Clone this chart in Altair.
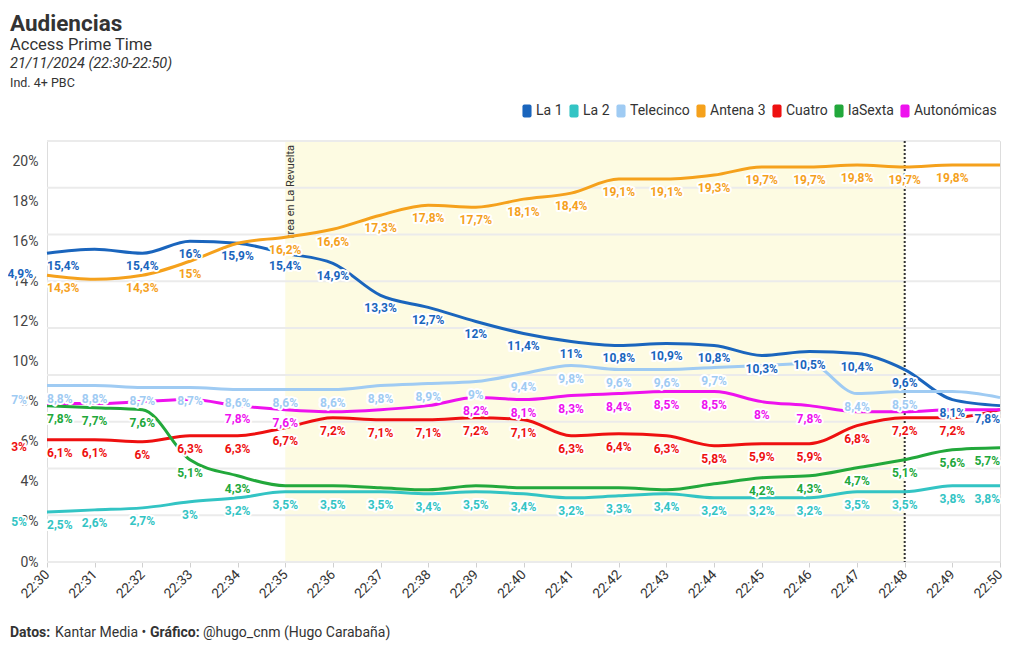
import altair as alt
import pandas as pd

# ---------------- data ----------------
times = ["22:30", "22:31", "22:32", "22:33", "22:34", "22:35", "22:36", "22:37", "22:38", "22:39",
         "22:40", "22:41", "22:42", "22:43", "22:44", "22:45", "22:46", "22:47", "22:48", "22:49", "22:50"]

series = ["La 1", "La 2", "Telecinco", "Antena 3", "Cuatro", "laSexta", "Autonómicas"]
colors = ["#1a65bd", "#33c4c4", "#9fcbf3", "#f5a11c", "#ee1010", "#22a83b", "#ee12ee"]

la1 = [15.4, 15.6, 15.4, 16.0, 15.9, 15.4, 14.9, 13.3, 12.7, 12.0, 11.4, 11.0, 10.8, 10.9, 10.8, 10.3, 10.5, 10.4, 9.6, 8.1, 7.8]
la2 = [2.5, 2.6, 2.7, 3.0, 3.2, 3.5, 3.5, 3.5, 3.4, 3.5, 3.4, 3.2, 3.3, 3.4, 3.2, 3.2, 3.2, 3.5, 3.5, 3.8, 3.8]
telecinco = [8.8, 8.8, 8.7, 8.7, 8.6, 8.6, 8.6, 8.8, 8.9, 9.0, 9.4, 9.8, 9.6, 9.6, 9.7, 9.8, 9.9, 8.4, 8.5, 8.5, 8.2]
antena3 = [14.3, 14.1, 14.3, 15.0, 15.9, 16.2, 16.6, 17.3, 17.8, 17.7, 18.1, 18.4, 19.1, 19.1, 19.3, 19.7, 19.7, 19.8, 19.7, 19.8, 19.8]
cuatro = [6.1, 6.1, 6.0, 6.3, 6.3, 6.7, 7.2, 7.1, 7.1, 7.2, 7.1, 6.3, 6.4, 6.3, 5.8, 5.9, 5.9, 6.8, 7.2, 7.2, 7.6]
lasexta = [7.8, 7.7, 7.6, 5.1, 4.3, 3.8, 3.8, 3.7, 3.6, 3.8, 3.7, 3.7, 3.7, 3.6, 3.9, 4.2, 4.3, 4.7, 5.1, 5.6, 5.7]
autonomicas = [7.9, 7.9, 8.0, 8.1, 7.8, 7.6, 7.5, 7.6, 7.8, 8.2, 8.1, 8.3, 8.4, 8.5, 8.5, 8.0, 7.8, 7.5, 7.5, 7.6, 7.6]

values = {"La 1": la1, "La 2": la2, "Telecinco": telecinco, "Antena 3": antena3,
          "Cuatro": cuatro, "laSexta": lasexta, "Autonómicas": autonomicas}

# minute indexes whose value label is hidden in the original (overlaps)
hidden_labels = {
    "La 1": [1],
    "La 2": [],
    "Telecinco": [15, 16, 19, 20],
    "Antena 3": [1, 4, 20],
    "Cuatro": [20],
    "laSexta": [5, 6, 7, 8, 9, 10, 11, 12, 13, 14],
    "Autonómicas": [0, 1, 2, 3, 6, 7, 8, 17, 18, 19, 20],
}

# stray labels at the left edge of the original
edge_series = ["La 1", "Telecinco", "Cuatro", "La 2"]
edge_text = ["4,9%", "7%", "3%", "5%"]
edge_value = [14.36, 8.08, 5.74, 2.0]
edge_group = ["a", "b", "b", "b"]

grid_values = [21 * k / 9 for k in range(10)]
ytick_values = list(range(0, 21, 2))
highlight_start, highlight_end = 5, 18   # 22:35 -> 22:48
marker_at = 18                           # 22:48
annotation = "rrea en La Revuelta"


def fmt(v):
    s = f"{v:.1f}".replace(".", ",")
    if s.endswith(",0"):
        s = s[:-2]
    return s + "%"


rows = []
for s in series:
    for i, v in enumerate(values[s]):
        rows.append({"i": i, "serie": s, "v": v, "label": fmt(v),
                     "show": i not in hidden_labels[s]})
df = pd.DataFrame(rows)
lab = df[df["show"]]

FONT = "Roboto"
n = len(times)

xaxis = alt.Axis(values=list(range(n)), title=None, grid=False, domain=False,
                 ticks=True, tickSize=5, tickColor="#d0d0d0", tickWidth=1,
                 labelExpr="[" + ",".join(f"'{t}'" for t in times) + "][datum.value]",
                 labelAngle=315, labelAlign="right", labelBaseline="middle",
                 labelFontSize=13.5, labelColor="#333333", labelFont=FONT, labelPadding=5, zindex=0)
xscale = alt.Scale(domain=[0, n - 1], nice=False, zero=False)

yaxis = alt.Axis(values=ytick_values, title=None, grid=False, domain=False, ticks=False,
                 labelExpr="datum.value + '%'", labelFontSize=14, labelColor="#444444",
                 labelFont=FONT, labelPadding=9, zindex=0)
yscale = alt.Scale(domain=[0, 21], nice=False, zero=True)

legend_symbol = ("M-0.4,-1 L0.4,-1 Q0.7,-1 0.7,-0.7 L0.7,0.7 Q0.7,1 0.4,1 L-0.4,1 "
                 "Q-0.7,1 -0.7,0.7 L-0.7,-0.7 Q-0.7,-1 -0.4,-1 Z")
legend = alt.Legend(orient="none", legendX=473, legendY=-37, direction="horizontal", title=None,
                    symbolType=legend_symbol, symbolSize=169, symbolStrokeWidth=0, symbolOpacity=1,
                    labelFontSize=14, labelFont=FONT, labelColor="#333333", labelOffset=2,
                    columnPadding=4, padding=0)
cscale = alt.Scale(domain=series, range=colors)
color = alt.Color("serie:N", scale=cscale, legend=legend)

X = alt.X("i:Q", scale=xscale, axis=xaxis)
Y = alt.Y("v:Q", scale=yscale, axis=yaxis)

# ---------------- layers ----------------
band = alt.Chart(pd.DataFrame({"i": [highlight_start], "i2": [highlight_end]})).mark_rect(
    color="#fdfbe2").encode(x=X, x2="i2:Q")

grid = alt.Chart(pd.DataFrame({"v": grid_values})).mark_rule(
    color="#ebebeb", strokeWidth=2).encode(y=Y)

marker = alt.Chart(pd.DataFrame({"i": [marker_at]})).mark_rule(
    color="#333333", strokeWidth=2, strokeDash=[2, 2]).encode(x=X)

note = alt.Chart(pd.DataFrame({"i": [highlight_start], "t": [annotation]})).mark_text(
    angle=270, align="right", baseline="top", fontSize=11, font=FONT, color="#333333").encode(
    x=X, y=alt.value(4), text="t:N")

lines = alt.Chart(df).mark_line(interpolate="monotone", strokeWidth=3).encode(
    x=X, y=Y, color=color, detail="serie:N")


def label_layers(data, align):
    base = alt.Chart(data)
    halo = base.mark_text(align=align, baseline="middle", dy=13, fontSize=12, fontWeight="bold",
                          font=FONT, fill="white", stroke="white", strokeWidth=4,
                          strokeJoin="round").encode(x=X, y=Y, text="label:N")
    txt = base.mark_text(align=align, baseline="middle", dy=13, fontSize=12, fontWeight="bold",
                         font=FONT).encode(x=X, y=Y, text="label:N", color=color)
    return halo, txt


h0, t0 = label_layers(lab[lab["i"] == 0], "left")
h1, t1 = label_layers(lab[(lab["i"] > 0) & (lab["i"] < n - 1)], "center")
h2, t2 = label_layers(lab[lab["i"] == n - 1], "right")

edge_df = pd.DataFrame({"serie": edge_series, "label": edge_text, "v": edge_value, "g": edge_group})


def edge_layers(data, xpos):
    base = alt.Chart(data)
    halo = base.mark_text(align="right", baseline="middle", fontSize=12, fontWeight="bold",
                          font=FONT, fill="white", stroke="white", strokeWidth=4,
                          strokeJoin="round").encode(x=alt.value(xpos), y=Y, text="label:N")
    txt = base.mark_text(align="right", baseline="middle", fontSize=12, fontWeight="bold",
                         font=FONT).encode(x=alt.value(xpos), y=Y, text="label:N", color=color)
    return halo, txt


eh1, et1 = edge_layers(edge_df[edge_df["g"] == "a"], -14)
eh2, et2 = edge_layers(edge_df[edge_df["g"] == "b"], -20)


def header(text, x, y, size, weight="normal", style="normal", col="#333333"):
    return alt.Chart(pd.DataFrame({"t": [text]})).mark_text(
        align="left", baseline="alphabetic", fontSize=size, fontWeight=weight,
        fontStyle=style, font=FONT, color=col).encode(
        x=alt.value(x), y=alt.value(y), text="t:N")


title = header("Audiencias", -37, -110, 22.5, weight="bold")
sub1 = header("Access Prime Time", -37, -91, 16.5)
sub2 = header("21/11/2024 (22:30-22:50)", -37, -73, 14.5, style="italic")
sub3 = header("Ind. 4+ PBC", -37, -54, 12.5)

f1 = header("Datos:", -37, 496, 14, weight="bold")
f2 = header("Kantar Media •", 8, 496, 14)
f3 = header("Gráfico:", 103, 496, 14, weight="bold")
f4 = header("@hugo_cnm (Hugo Carabaña)", 156, 496, 14)

chart = alt.layer(
    band, grid, marker, note, lines,
    h0, h1, h2, t0, t1, t2, eh1, eh2, et1, et2,
    title, sub1, sub2, sub3, f1, f2, f3, f4
).properties(
    width=953, height=421, autosize="none",
    padding={"left": 39, "top": 133, "right": 12, "bottom": 80}
).configure_view(stroke=None).configure(font=FONT)

chart.save("out.html", embed_options={"renderer": "svg", "actions": False})
